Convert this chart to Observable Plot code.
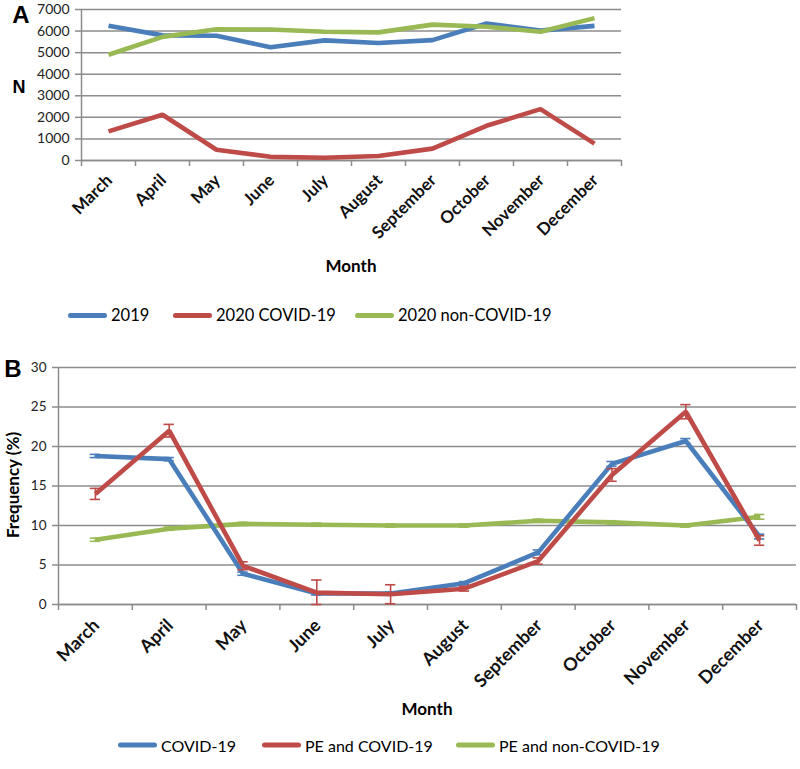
<!DOCTYPE html>
<html><head><meta charset="utf-8">
<script src="https://cdn.jsdelivr.net/npm/d3@7"></script>
<script src="https://cdn.jsdelivr.net/npm/@observablehq/plot@0.6"></script>
<style>
body{margin:0;background:#fff;font-family:Lato, sans-serif;color:#000}
#wrap{position:relative;width:800px;height:769px;overflow:hidden;background:#fff}
.abs{position:absolute;white-space:nowrap;transform:translate(-50%,-50%)}
.lg{position:absolute;display:flex;align-items:center;white-space:nowrap;transform:translateY(-50%)}
.sw{display:inline-block;width:39px;height:5px;border-radius:2.5px;margin-right:4px}
.plot{position:absolute;left:0}
</style></head>
<body><div id="wrap"></div>
<script>
// ---------- data ----------
const months = ["March","April","May","June","July","August","September","October","November","December"];

// Panel A (N)
const seriesA = ["2019","2020 COVID-19","2020 non-COVID-19"];
const a2019      = [6250, 5800, 5780, 5250, 5570, 5450, 5580, 6350, 6020, 6240];
const a2020Covid = [1350, 2120, 500, 170, 130, 210, 550, 1610, 2380, 780];
const a2020Non   = [4900, 5730, 6080, 6070, 5970, 5940, 6300, 6200, 5970, 6600];
const yTicksA = [0,1000,2000,3000,4000,5000,6000,7000];

// Panel B (Frequency %)
const seriesB = ["COVID-19","PE and COVID-19","PE and non-COVID-19"];
const bCovid      = [18.8, 18.4, 3.9, 1.4, 1.4, 2.7, 6.6, 17.8, 20.7, 8.6];
const bCovidErr   = [0.2, 0.2, 0.2, 0.2, 0.2, 0.2, 0.3, 0.3, 0.3, 0.3];
const bPeCovid    = [14.0, 22.0, 4.9, 1.5, 1.3, 2.0, 5.5, 16.4, 24.4, 8.1];
const bPeCovidErr = [0.7, 0.8, 0.5, 1.6, 1.2, 0.3, 0.4, 0.8, 0.9, 0.6];
const bPeNon      = [8.2, 9.6, 10.2, 10.1, 10.0, 10.0, 10.6, 10.4, 10.0, 11.1];
const bPeNonErr   = [0.2, 0.2, 0.2, 0.2, 0.2, 0.2, 0.2, 0.2, 0.2, 0.3];
const yTicksB = [0,5,10,15,20,25,30];

const colors = ["#4A7EBB", "#BE4B48", "#98B954"];

// ---------- helpers ----------
const idx = months.map((m,i)=>i);
const bounds = d3.range(-0.5, 10, 1);
const grid = "#8C8C8C";
const wrap = document.getElementById("wrap");

function table(names, arrays, errs){
  const out = [];
  names.forEach((s,k)=>arrays[k].forEach((v,i)=>out.push({series:s, k, i, month:months[i], value:v, err: errs ? errs[k][i] : 0})));
  return out;
}

function panel({names, arrays, errs, yTicks, yMax, width, height, mt, mb, ml, mr, tickFont, yFont, order, pad}){
  const data = table(names, arrays, errs);
  const marks = [
    Plot.gridY(yTicks, {stroke: grid, strokeOpacity: 1, strokeWidth: 1.5}),
    Plot.axisY(yTicks, {tickSize: 6, tickPadding: 6, stroke: grid, strokeWidth: 1.5, fill: "#222", fontSize: yFont, tickFormat: d => String(d), label: null}),
    Plot.ruleX([-0.5], {y1: 0, y2: yMax, stroke: grid, strokeWidth: 1.5}),
    Plot.ruleY([0], {stroke: grid, strokeWidth: 1.5}),
    Plot.axisX(bounds, {tickSize: 6, stroke: grid, strokeWidth: 1.5, tickFormat: () => "", label: null}),
    Plot.text(idx, {x: d => d, y: 0, text: d => months[d], rotate: -45, textAnchor: "end", lineAnchor: "middle",
      dx: 1, dy: pad, fontSize: tickFont, fontWeight: "bold", fill: "#111"})
  ];
  for (const k of order){
    const d = data.filter(r => r.k === k);
    marks.push(Plot.line(d, {x: "i", y: "value", stroke: colors[k], strokeWidth: 4.6, strokeLinejoin: "miter", strokeLinecap: "butt"}));
    if (errs){
      marks.push(Plot.ruleX(d, {x: "i", y1: r => Math.max(0, r.value - r.err), y2: r => r.value + r.err, stroke: colors[k], strokeWidth: 1.6}));
      marks.push(Plot.ruleY(d, {y: r => r.value + r.err, x1: r => r.i - 0.07, x2: r => r.i + 0.07, stroke: colors[k], strokeWidth: 1.6}));
      marks.push(Plot.ruleY(d, {y: r => Math.max(0, r.value - r.err), x1: r => r.i - 0.07, x2: r => r.i + 0.07, stroke: colors[k], strokeWidth: 1.6}));
    }
  }
  return Plot.plot({
    width, height, marginTop: mt, marginBottom: mb, marginLeft: ml, marginRight: mr,
    x: {type: "linear", domain: [-0.5, 9.5], axis: null},
    y: {type: "linear", domain: [0, yMax], axis: null},
    style: {fontFamily: "Lato, sans-serif", background: "transparent", overflow: "visible"},
    marks
  });
}

// ---------- panel A ----------
const pA = panel({names: seriesA, arrays: [a2019, a2020Covid, a2020Non], yTicks: yTicksA, yMax: 7000,
  width: 640, height: 250, mt: 6, mb: 93, ml: 81, mr: 19, tickFont: 17, yFont: 14, order: [0,1,2], pad: 17});
pA.classList.add("plot"); pA.style.top = "3px";
wrap.appendChild(pA);

// ---------- panel B ----------
const pB = panel({names: seriesB, arrays: [bCovid, bPeCovid, bPeNon], errs: [bCovidErr, bPeCovidErr, bPeNonErr], yTicks: yTicksB, yMax: 30,
  width: 800, height: 360, mt: 27, mb: 96, ml: 58, mr: 4, tickFont: 18, yFont: 13.5, order: [2,0,1], pad: 18});
pB.classList.add("plot"); pB.style.top = "340px";
wrap.appendChild(pB);

// ---------- text & legends ----------
function txt(s, x, y, css){
  const d = document.createElement("div");
  d.className = "abs"; d.textContent = s;
  d.style.left = x + "px"; d.style.top = y + "px";
  Object.assign(d.style, css || {});
  wrap.appendChild(d);
}
txt("A", 21, 15, {font: "bold 24px 'Liberation Sans', Arial, sans-serif"});
txt("N", 19, 87, {font: "bold 18px 'Liberation Sans', Arial, sans-serif"});
txt("Month", 351, 265, {font: "bold 17px Lato, sans-serif"});
txt("B", 13, 369, {font: "bold 24px 'Liberation Sans', Arial, sans-serif"});
txt("Frequency (%)", 12, 485, {font: "bold 17px Lato, sans-serif", transform: "translate(-50%,-50%) rotate(-90deg)"});
txt("Month", 427, 708, {font: "bold 17px Lato, sans-serif"});

function legend(names, xs, y, fontSize){
  names.forEach((s,k)=>{
    const g = document.createElement("div");
    g.className = "lg";
    g.style.left = xs[k] + "px"; g.style.top = y + "px";
    g.style.fontSize = fontSize + "px";
    const sw = document.createElement("span"); sw.className = "sw"; sw.style.background = colors[k];
    const t = document.createElement("span"); t.textContent = s;
    g.appendChild(sw); g.appendChild(t);
    wrap.appendChild(g);
  });
}
legend(seriesA, [68, 173, 355], 315, 16.5);
legend(seriesB, [118, 262, 456], 745, 16);
</script>
</body></html>
